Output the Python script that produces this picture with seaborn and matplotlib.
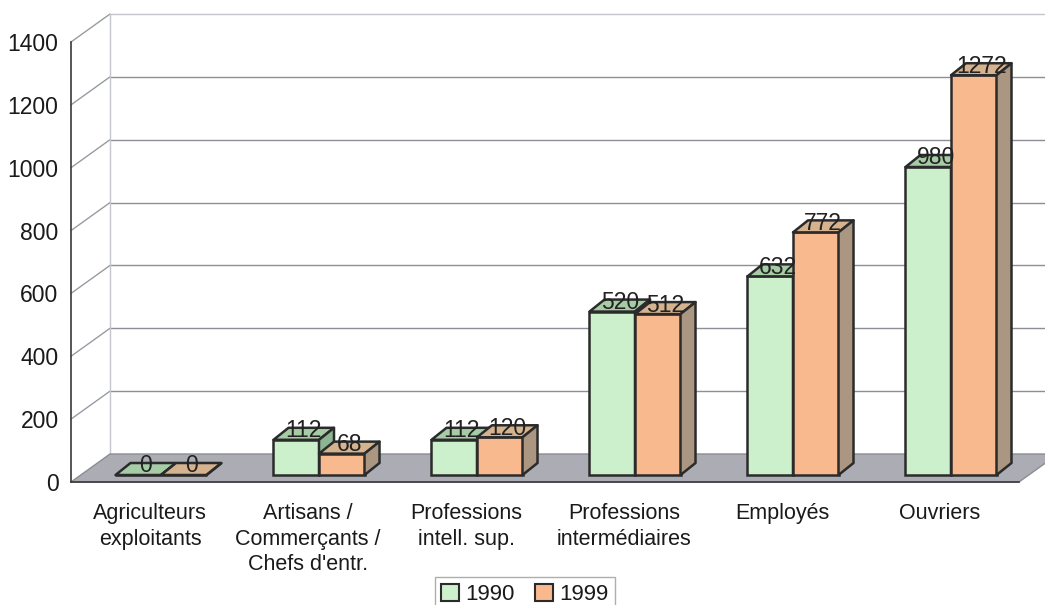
import matplotlib
matplotlib.use("Agg")
import matplotlib.pyplot as plt
import numpy as np
import pandas as pd
import seaborn as sns
from matplotlib.patches import Polygon, Patch

# --- data -------------------------------------------------------------
categories = [
    "Agriculteurs\nexploitants",
    "Artisans /\nCommerçants /\nChefs d'entr.",
    "Professions\nintell. sup.",
    "Professions\nintermédiaires",
    "Employés",
    "Ouvriers",
]
years = ["1990", "1999"]
values_1990 = [0, 112, 112, 520, 632, 980]
values_1999 = [0, 68, 120, 512, 772, 1272]
y_ticks = [0, 200, 400, 600, 800, 1000, 1200, 1400]

df = pd.DataFrame({
    "categorie": categories * 2,
    "annee": [years[0]] * len(categories) + [years[1]] * len(categories),
    "effectif": values_1990 + values_1999,
})

# --- style ------------------------------------------------------------
sns.set_style("white")
plt.rcParams["font.family"] = ["Liberation Sans", "DejaVu Sans"]

GREEN, GREEN_TOP, GREEN_SIDE = "#ccefcc", "#a6cca6", "#8db493"
ORANGE, ORANGE_TOP, ORANGE_SIDE = "#f9b98f", "#d6b38f", "#ab9781"
EDGE = "#2b2b2b"
FLOOR = "#abacb4"
TEXT = "#1a1a1a"

FIG_W, FIG_H = 1045, 605
fig = plt.figure(figsize=(FIG_W / 100, FIG_H / 100), dpi=100)
L, B, W, H = 71, 123, 948, 440
ax = fig.add_axes([L / FIG_W, B / FIG_H, W / FIG_W, H / FIG_H])

n = len(categories)
sx = W / n            # pixels per category
sy = H / y_ticks[-1]  # pixels per unit


def shift(x, y, dx, dy):
    """Move a data point by a pixel offset (3-D depth illusion)."""
    return (x + dx / sx, y + dy / sy)


WALL = (39, 28)    # depth of floor / back wall
PLANE = (11, 7)    # plane in which the bars stand
DEPTH = (15, 12)   # depth of each bar

# --- bars (front faces) -----------------------------------------------
sns.barplot(data=df, x="categorie", y="effectif", hue="annee",
            order=categories, hue_order=years, palette=[GREEN, ORANGE],
            width=0.576, dodge=True, saturation=1, errorbar=None,
            edgecolor=EDGE, linewidth=1.8, legend=False, ax=ax)

ax.set_xlim(-0.5, n - 0.5)
ax.set_ylim(0, y_ticks[-1])
ax.set_xlabel("")
ax.set_ylabel("")

xl, xr = -0.5, n - 0.5

# floor
ax.add_patch(Polygon([(xl, 0), (xr, 0), shift(xr, 0, *WALL), shift(xl, 0, *WALL)],
                     closed=True, fc=FLOOR, ec="#8c8c94", lw=1, clip_on=False, zorder=1))

# back wall and side-wall gridlines
for v in y_ticks[1:]:
    col = "#c4c6ce" if v == y_ticks[-1] else "#8e8e96"
    bx, by = shift(xl, v, *WALL)
    ex, _ = shift(xr + 1, v, *WALL)
    ax.plot([xl, bx], [v, by], color="#9a9aa4", lw=1, clip_on=False, zorder=0.5)
    ax.plot([bx, ex], [by, by], color=col, lw=1, clip_on=False, zorder=0.5)
p0 = shift(xl, 0, *WALL)
p1 = shift(xl, y_ticks[-1], *WALL)
ax.plot([p0[0], p1[0]], [p0[1], p1[1]], color="#c4c6ce", lw=1, clip_on=False, zorder=0.5)

# bar depth faces and value labels
series = [values_1990, values_1999]
tops = [GREEN_TOP, ORANGE_TOP]
sides = [GREEN_SIDE, ORANGE_SIDE]
for k, cont in enumerate(ax.containers):
    z = 3 + 2 * k
    for i, p in enumerate(cont.patches):
        val = series[k][i]
        p.set_x(p.get_x() + PLANE[0] / sx)
        p.set_y(PLANE[1] / sy)
        p.set_height(val)
        p.set_zorder(z)
        p.set_clip_on(False)
        x0, w = p.get_x(), p.get_width()
        x1 = x0 + w
        y0 = p.get_y()
        y1 = y0 + val
        ax.add_patch(Polygon([(x0, y1), (x1, y1), shift(x1, y1, *DEPTH), shift(x0, y1, *DEPTH)],
                             closed=True, fc=tops[k], ec=EDGE, lw=1.8,
                             joinstyle="round", clip_on=False, zorder=z))
        ax.add_patch(Polygon([(x1, y0), (x1, y1), shift(x1, y1, *DEPTH), shift(x1, y0, *DEPTH)],
                             closed=True, fc=sides[k], ec=EDGE, lw=1.8,
                             joinstyle="round", clip_on=False, zorder=z))
        tx, ty = shift(x0 + w / 2, y1, DEPTH[0] / 2, DEPTH[1] - 3)
        ax.text(tx, ty, f"{val}", ha="center", va="center", fontsize=16.5,
                color="#222222", zorder=10, clip_on=False)

# --- axes -------------------------------------------------------------
for s in ["top", "right"]:
    ax.spines[s].set_visible(False)
for s in ["left", "bottom"]:
    ax.spines[s].set_color("#3a3a3a")
    ax.spines[s].set_linewidth(1.2)

ax.set_yticks(y_ticks)
ax.set_yticklabels([str(t) for t in y_ticks], fontsize=16.5, color=TEXT)
ax.tick_params(axis="y", length=5, width=1, color="#3a3a3a", pad=4, direction="out")

ax.set_xticks(range(n))
ax.set_xticklabels(categories, fontsize=15.5, color=TEXT, linespacing=1.3)
ax.set_xticks(np.arange(n + 1) - 0.5, minor=True)
ax.tick_params(axis="x", which="major", length=0, pad=15)
ax.tick_params(axis="x", which="minor", length=7, width=1, color="#3a3a3a", direction="out")

# --- legend -----------------------------------------------------------
handles = [Patch(fc=GREEN, ec=EDGE, lw=1.5), Patch(fc=ORANGE, ec=EDGE, lw=1.5)]
leg = fig.legend(handles, years, loc="upper center",
                 bbox_to_anchor=(525 / FIG_W, 1 - 577 / FIG_H), ncol=2, fontsize=16,
                 frameon=True, fancybox=False, edgecolor="#9a9a9a",
                 handlelength=0.8, handleheight=0.8, handletextpad=0.3,
                 columnspacing=0.9, borderpad=0.3, borderaxespad=0)
leg.get_frame().set_linewidth(1)
for t in leg.get_texts():
    t.set_color(TEXT)

fig.savefig("out.png", dpi=100)
